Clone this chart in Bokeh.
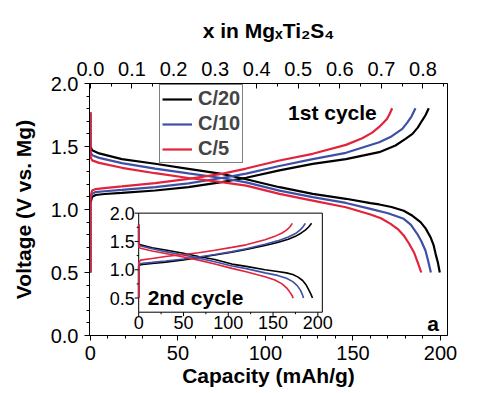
import math
from bokeh.plotting import figure
from bokeh.models import (Range1d, LinearAxis, SingleIntervalTicker, PrintfTickFormatter,
                          Legend, LegendItem)
from bokeh.embed import file_html
from bokeh.resources import INLINE
from bokeh.core.properties import value

# ---------------- data: 1st cycle (main plot) ----------------
rates = ["C/20", "C/10", "C/5"]

cap1_c20_dis = [0, 0, 1, 5, 18, 37, 56, 75, 89, 108, 127, 146, 160, 165, 172, 179, 184, 188.6, 191.5, 194.3, 196, 197.2, 198.5, 199.6]
v1_c20_dis   = [1.77, 1.50, 1.47, 1.445, 1.40, 1.363, 1.323, 1.283, 1.24, 1.177, 1.124, 1.085, 1.05, 1.04, 1.02, 0.99, 0.95, 0.90, 0.85, 0.78, 0.72, 0.648, 0.58, 0.50]
cap1_c10_dis = [0, 0, 1, 5, 18, 37, 56, 75, 89, 108, 127, 146, 160, 170, 179, 183, 186.7, 189, 191.4, 193, 194.5]
v1_c10_dis   = [1.77, 1.46, 1.43, 1.41, 1.368, 1.325, 1.287, 1.25, 1.215, 1.15, 1.098, 1.052, 1.005, 0.97, 0.926, 0.88, 0.807, 0.75, 0.675, 0.59, 0.50]
cap1_c5_dis  = [0, 0, 1, 5, 18, 37, 56, 75, 89, 108, 127, 146, 160, 166, 171.5, 176, 179, 182, 184.8, 187, 189]
v1_c5_dis    = [1.77, 1.42, 1.39, 1.37, 1.331, 1.288, 1.25, 1.217, 1.19, 1.124, 1.071, 1.018, 0.96, 0.93, 0.886, 0.84, 0.794, 0.73, 0.661, 0.58, 0.50]

cap1_c20_chg = [0, 0, 1, 3, 8, 18, 37, 56, 75, 89, 108, 127, 146, 165, 174.3, 180, 184, 187, 189.5, 191.5, 193.3]
v1_c20_chg   = [0.5, 1.05, 1.10, 1.115, 1.123, 1.132, 1.151, 1.177, 1.217, 1.252, 1.31, 1.362, 1.40, 1.455, 1.508, 1.56, 1.60, 1.65, 1.706, 1.75, 1.804]
cap1_c10_chg = [0, 0, 1, 3, 8, 18, 37, 56, 75, 89, 108, 127, 146, 165, 172, 178.2, 181, 183.5, 185.7]
v1_c10_chg   = [0.5, 1.08, 1.125, 1.138, 1.145, 1.155, 1.178, 1.208, 1.25, 1.285, 1.345, 1.40, 1.45, 1.534, 1.58, 1.64, 1.69, 1.74, 1.804]
cap1_c5_chg  = [0, 0, 1, 3, 8, 18, 37, 56, 75, 89, 108, 127, 146, 155.3, 161, 164.8, 167.5, 169.5, 171, 172.4]
v1_c5_chg    = [0.5, 1.10, 1.15, 1.162, 1.17, 1.183, 1.209, 1.243, 1.283, 1.325, 1.389, 1.442, 1.513, 1.566, 1.61, 1.653, 1.69, 1.72, 1.76, 1.804]

# ---------------- data: 2nd cycle (inset) ----------------
cap2_c20_dis = [0, 0, 2, 15, 30, 50, 67, 85, 104, 120, 141, 155, 165, 172, 178, 183, 187, 190, 192.5, 194]
v2_c20_dis   = [1.8, 1.46, 1.44, 1.39, 1.35, 1.29, 1.235, 1.18, 1.10, 1.06, 1.0, 0.97, 0.945, 0.915, 0.87, 0.81, 0.73, 0.64, 0.56, 0.50]
cap2_c10_dis = [0, 0, 2, 15, 30, 50, 67, 85, 104, 120, 141, 155, 165, 172, 177, 180.5, 182.5, 184]
v2_c10_dis   = [1.8, 1.44, 1.42, 1.37, 1.32, 1.26, 1.205, 1.14, 1.065, 1.02, 0.945, 0.90, 0.85, 0.79, 0.72, 0.64, 0.57, 0.50]
cap2_c5_dis  = [0, 0, 2, 15, 30, 50, 67, 85, 104, 120, 141, 152, 160, 165, 168.5, 171, 172.5]
v2_c5_dis    = [1.8, 1.40, 1.38, 1.33, 1.287, 1.225, 1.17, 1.10, 1.024, 0.965, 0.877, 0.82, 0.75, 0.68, 0.61, 0.55, 0.50]

cap2_c20_chg = [0, 0, 2, 15, 30, 50, 67, 85, 104, 120, 141, 155, 167, 175, 181.5, 186, 190, 193]
v2_c20_chg   = [0.5, 1.06, 1.09, 1.11, 1.135, 1.175, 1.215, 1.26, 1.31, 1.36, 1.43, 1.48, 1.54, 1.59, 1.65, 1.70, 1.76, 1.82]
cap2_c10_chg = [0, 0, 2, 15, 30, 50, 67, 85, 104, 120, 141, 155, 167, 175, 180, 183.5, 186]
v2_c10_chg   = [0.5, 1.07, 1.11, 1.13, 1.155, 1.19, 1.225, 1.27, 1.32, 1.37, 1.45, 1.51, 1.58, 1.64, 1.70, 1.76, 1.82]
cap2_c5_chg  = [0, 0, 2, 15, 30, 50, 67, 85, 104, 120, 141, 152, 160, 165, 169, 171.4]
v2_c5_chg    = [0.5, 1.12, 1.17, 1.20, 1.235, 1.27, 1.30, 1.345, 1.395, 1.44, 1.53, 1.59, 1.65, 1.70, 1.76, 1.82]

# inset axis ticks
ins_x_ticks = [0, 50, 100, 150, 200]
ins_x_tick_labels = ["0", "50", "100", "150", "200"]
ins_x_minor = [25, 75, 125, 175]
ins_y_ticks = [0.5, 1.0, 1.5, 2.0]
ins_y_tick_labels = ["0.5", "1.0", "1.5", "2.0"]
ins_y_minor = [0.75, 1.25, 1.75]

x_top_ticks_scale = 237.5   # mAh/g per unit x in MgxTi2S4

COLORS = ["#000000", "#3E50A6", "#E2233B"]
FONT = "Liberation Sans"

# ---------------- main figure ----------------
p = figure(width=486, height=393, x_range=Range1d(-0.5, 204), y_range=Range1d(0, 2.0),
           output_backend="svg", toolbar_location=None,
           min_border_left=89, min_border_top=83, min_border_right=39, min_border_bottom=58)
p.xgrid.visible = False
p.ygrid.visible = False
p.outline_line_color = "black"
p.outline_line_alpha = 1.0
p.outline_line_width = 1
p.background_fill_color = "white"
p.border_fill_color = "white"

main_sets = [
    (cap1_c20_dis, v1_c20_dis, cap1_c20_chg, v1_c20_chg),
    (cap1_c10_dis, v1_c10_dis, cap1_c10_chg, v1_c10_chg),
    (cap1_c5_dis, v1_c5_dis, cap1_c5_chg, v1_c5_chg),
]
items = []
for (cd, vd, cc, vc), col, lab in zip(main_sets, COLORS, rates):
    r1 = p.line(cd, vd, line_color=col, line_width=2.2)
    p.line(cc, vc, line_color=col, line_width=2.2)
    items.append(LegendItem(label=lab, renderers=[r1]))

def style_axis(ax, size):
    ax.axis_line_color = "black"
    ax.major_tick_line_color = "black"
    ax.minor_tick_line_color = "black"
    ax.major_label_text_font = FONT
    ax.major_label_text_font_size = size
    ax.major_label_text_color = "black"
    ax.axis_label_text_font = FONT
    ax.axis_label_text_font_style = "bold"
    ax.axis_label_text_font_size = "21px"
    ax.axis_label_text_color = "black"

xa = p.xaxis[0]
xa.ticker = SingleIntervalTicker(interval=50, num_minor_ticks=5)
xa.axis_label = "Capacity (mAh/g)"
style_axis(xa, "20px")
xa.major_tick_out = 5
xa.major_tick_in = 0
xa.minor_tick_out = 3
xa.minor_tick_in = 0
xa.major_label_standoff = 5
xa.axis_label_standoff = 1

ya = p.yaxis[0]
ya.ticker = SingleIntervalTicker(interval=0.5, num_minor_ticks=5)
ya.formatter = PrintfTickFormatter(format="%.1f")
ya.axis_label = "Voltage (V vs. Mg)"
style_axis(ya, "20px")
ya.major_tick_out = 5
ya.major_tick_in = 0
ya.minor_tick_out = 3
ya.minor_tick_in = 0
ya.major_label_standoff = 6
ya.axis_label_standoff = 13

p.extra_x_ranges = {"xfrac": Range1d(-0.5 / x_top_ticks_scale, 204 / x_top_ticks_scale)}
top = LinearAxis(x_range_name="xfrac", axis_label="x in Mg\u2093Ti\u2082S\u2084",
                 ticker=SingleIntervalTicker(interval=0.1, num_minor_ticks=2),
                 formatter=PrintfTickFormatter(format="%.1f"))
style_axis(top, "20px")
top.major_tick_in = 5
top.major_tick_out = 0
top.minor_tick_in = 3
top.minor_tick_out = 0
top.major_label_standoff = 8
top.axis_label_standoff = 17
p.add_layout(top, "above")

legend = Legend(items=items, location=(70, 172), margin=0, padding=2, spacing=2,
                glyph_width=30, glyph_height=20, label_height=20, label_standoff=6,
                label_text_font=FONT, label_text_font_style="bold", label_text_font_size="20px",
                border_line_color="black", border_line_width=1, background_fill_alpha=1.0)
p.add_layout(legend)

p.text(x=[112.9], y=[1.77], text=["1st cycle"], text_font=value(FONT), text_font_style="bold",
       text_font_size="21px", text_align="left", text_baseline="alphabetic", text_color="black")
p.text(x=[192.4], y=[0.098], text=["a"], text_font=value(FONT), text_font_style="bold",
       text_font_size="21px", text_align="left", text_baseline="alphabetic", text_color="black")

# ---------------- inset (sub-coordinate system inside the main plot) ----------------
ins_x = Range1d(0, 205)
ins_y = Range1d(0.25, 2.0)
sub = p.subplot(x_source=ins_x, y_source=ins_y,
                x_target=Range1d(27.6, 132.5), y_target=Range1d(0.185, 0.971))

sub.quad(left=[ins_x.start], right=[ins_x.end], bottom=[ins_y.start], top=[ins_y.end],
         fill_color="white", line_color="black", line_width=1)

ins_sets = [
    (cap2_c20_dis, v2_c20_dis, cap2_c20_chg, v2_c20_chg),
    (cap2_c10_dis, v2_c10_dis, cap2_c10_chg, v2_c10_chg),
    (cap2_c5_dis, v2_c5_dis, cap2_c5_chg, v2_c5_chg),
]
for (cd, vd, cc, vc), col in zip(ins_sets, COLORS):
    sub.line(cd, vd, line_color=col, line_width=1.6)
    sub.line(cc, vc, line_color=col, line_width=1.6)

# inset ticks (outward, screen-length rays)
sub.ray(x=ins_x_ticks, y=[ins_y.start] * len(ins_x_ticks), length=4, length_units="screen",
        angle=-math.pi / 2, line_color="black", line_width=1)
sub.ray(x=ins_x_minor, y=[ins_y.start] * len(ins_x_minor), length=2, length_units="screen",
        angle=-math.pi / 2, line_color="black", line_width=1)
sub.ray(x=[ins_x.start] * len(ins_y_ticks), y=ins_y_ticks, length=4, length_units="screen",
        angle=math.pi, line_color="black", line_width=1)
sub.ray(x=[ins_x.start] * len(ins_y_minor), y=ins_y_minor, length=2, length_units="screen",
        angle=math.pi, line_color="black", line_width=1)

sub.text(x=ins_x_ticks, y=[ins_y.start] * len(ins_x_ticks), text=ins_x_tick_labels,
         text_font=value(FONT), text_font_size="18px", text_align="center", text_baseline="top",
         y_offset=4, text_color="black")
sub.text(x=[ins_x.start] * len(ins_y_ticks), y=ins_y_ticks, text=ins_y_tick_labels,
         text_font=value(FONT), text_font_size="18px", text_align="right", text_baseline="middle",
         x_offset=-4, text_color="black")

sub.text(x=[10], y=[0.51], text=["2nd cycle"], text_font=value(FONT), text_font_style="bold",
         text_font_size="21px", text_align="left", text_baseline="alphabetic", text_color="black")

open("out.html", "w").write(file_html(p, INLINE))
